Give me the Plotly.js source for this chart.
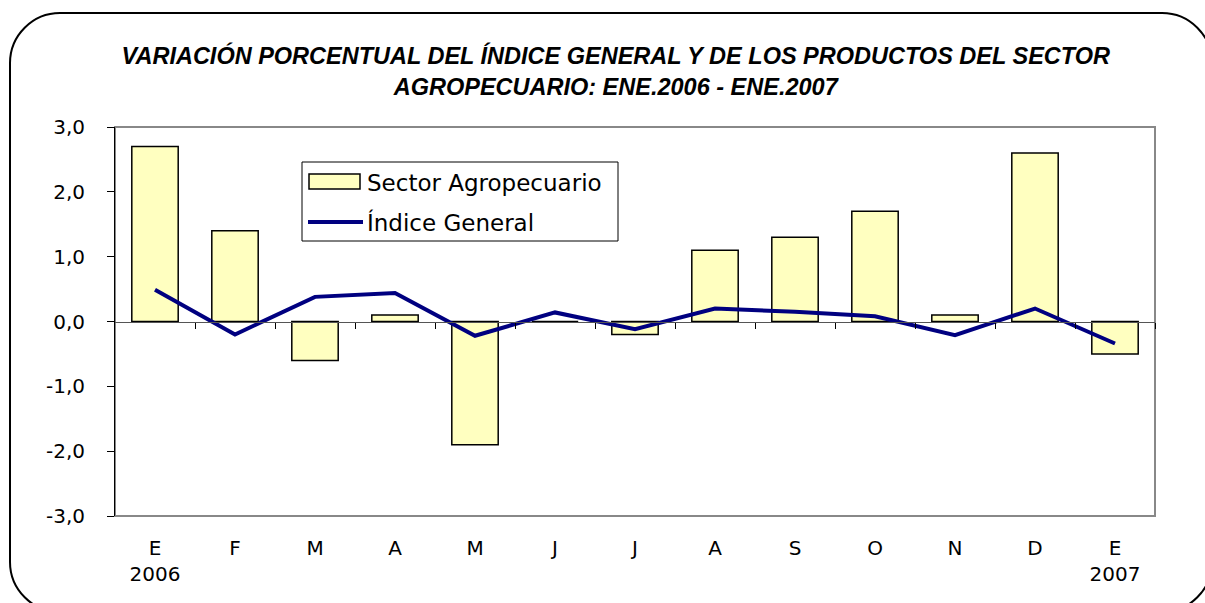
<!DOCTYPE html>
<html>
<head>
<meta charset="utf-8">
<script src="https://cdn.plot.ly/plotly-3.0.1.min.js"></script>
<style>
  body { margin: 0; background: #fff; }
  #chart { width: 1205px; height: 603px; }
</style>
</head>
<body>
<div id="chart"></div>
<script>
// months ene.2006 - ene.2007
var monthLabels = ['E<br>2006', 'F', 'M', 'A', 'M', 'J', 'J', 'A', 'S', 'O', 'N', 'D', 'E<br>2007'];
var monthIndex = [0, 1, 2, 3, 4, 5, 6, 7, 8, 9, 10, 11, 12];
var sectorAgro = [2.7, 1.4, -0.6, 0.1, -1.9, 0.0, -0.2, 1.1, 1.3, 1.7, 0.1, 2.6, -0.5];
var indiceGeneral = [0.49, -0.20, 0.38, 0.44, -0.22, 0.14, -0.12, 0.20, 0.15, 0.08, -0.21, 0.20, -0.34];
var seriesNames = ['Sector Agropecuario', 'Índice General'];
var yTickVals = [-3, -2, -1, 0, 1, 2, 3];
var yTickText = ['-3,0', '-2,0', '-1,0', '0,0', '1,0', '2,0', '3,0'];
var boundaryTicks = [0.5, 1.5, 2.5, 3.5, 4.5, 5.5, 6.5, 7.5, 8.5, 9.5, 10.5, 11.5, 12.5];

var barFill = '#FFFFC0', lineColor = '#000080';

// plot area in pixels, used to place frame and legend in paper units
var L = 115, R = 1155, T = 127, B = 516;
function px(x) { return (x - L) / (R - L); }
function py(y) { return (B - y) / (B - T); }

function roundedFrame(x0, y0, x1, y1, r) {
  var k = 0.55 * r;
  var p = 'M ' + px(x0) + ',' + py(y0 + r) +
    ' C ' + px(x0) + ',' + py(y0 + r - k) + ' ' + px(x0 + r - k) + ',' + py(y0) + ' ' + px(x0 + r) + ',' + py(y0) +
    ' L ' + px(x1 - r) + ',' + py(y0) +
    ' C ' + px(x1 - r + k) + ',' + py(y0) + ' ' + px(x1) + ',' + py(y0 + r - k) + ' ' + px(x1) + ',' + py(y0 + r) +
    ' L ' + px(x1) + ',' + py(y1 - r) +
    ' C ' + px(x1) + ',' + py(y1 - r + k) + ' ' + px(x1 - r + k) + ',' + py(y1) + ' ' + px(x1 - r) + ',' + py(y1) +
    ' L ' + px(x0 + r) + ',' + py(y1) +
    ' C ' + px(x0 + r - k) + ',' + py(y1) + ' ' + px(x0) + ',' + py(y1 - r + k) + ' ' + px(x0) + ',' + py(y1 - r) +
    ' Z';
  return p;
}

var barTrace = {
  x: monthIndex, y: sectorAgro, type: 'bar', name: seriesNames[0],
  marker: { color: barFill, line: { color: '#000', width: 1.5 } },
  hoverinfo: 'skip', showlegend: false
};
var lineTrace = {
  x: monthIndex, y: indiceGeneral, type: 'scatter', mode: 'lines', name: seriesNames[1],
  line: { color: lineColor, width: 4 },
  hoverinfo: 'skip', showlegend: false
};
// invisible trace so the zero-line tick axis is drawn
var tickTrace = {
  x: [0], y: [0], xaxis: 'x2', type: 'scatter', mode: 'markers',
  marker: { opacity: 0 }, showlegend: false, hoverinfo: 'skip'
};

// excel-style legend box
var legendShapes = [
  { type: 'rect', xref: 'paper', yref: 'paper', x0: px(302), x1: px(618), y0: py(241), y1: py(162),
    fillcolor: '#fff', line: { color: '#000', width: 1 } },
  { type: 'rect', xref: 'paper', yref: 'paper', x0: px(309), x1: px(360), y0: py(189), y1: py(174),
    fillcolor: barFill, line: { color: '#000', width: 1.5 } },
  { type: 'line', xref: 'paper', yref: 'paper', x0: px(308), x1: px(363), y0: py(222), y1: py(222),
    line: { color: lineColor, width: 4 } }
];
var legendText = [
  { xref: 'paper', yref: 'paper', x: px(365), y: py(183), text: seriesNames[0], showarrow: false,
    xanchor: 'left', yanchor: 'middle', font: { size: 23 } },
  { xref: 'paper', yref: 'paper', x: px(365), y: py(222), text: seriesNames[1], showarrow: false,
    xanchor: 'left', yanchor: 'middle', font: { size: 23 } }
];

var layout = {
  width: 1205, height: 603,
  margin: { l: L, r: 1205 - R, t: T, b: 603 - B, pad: 0 },
  paper_bgcolor: '#fff', plot_bgcolor: '#fff',
  font: { family: 'DejaVu Sans, Verdana, sans-serif', color: '#000', size: 20 },
  title: {
    text: 'VARIACIÓN PORCENTUAL DEL ÍNDICE GENERAL Y DE LOS PRODUCTOS DEL SECTOR<br>AGROPECUARIO: ENE.2006 - ENE.2007',
    font: { family: 'Liberation Sans, Arial, sans-serif', size: 23.5, style: 'italic', weight: 'bold', color: '#000' },
    xref: 'container', x: 0.511, xanchor: 'center',
    yref: 'container', y: 1 - 64 / 603, yanchor: 'top'
  },
  bargap: 0.42,
  showlegend: false,
  xaxis: {
    range: [-0.5, 12.5], tickmode: 'array', tickvals: monthIndex, ticktext: monthLabels,
    ticks: '', showline: false, showgrid: false, zeroline: false,
    tickfont: { size: 20 }, ticklabelstandoff: 18, fixedrange: true
  },
  xaxis2: {
    overlaying: 'x', anchor: 'free', position: 0.5, side: 'bottom',
    range: [-0.5, 12.5], tickmode: 'array', tickvals: boundaryTicks,
    ticks: 'outside', ticklen: 6, tickcolor: '#000', tickwidth: 1,
    showticklabels: false, showline: true, linecolor: '#555', linewidth: 1,
    showgrid: false, zeroline: false, fixedrange: true
  },
  yaxis: {
    range: [-3, 3], tickmode: 'array', tickvals: yTickVals, ticktext: yTickText,
    ticks: 'outside', ticklen: 7, tickcolor: '#000',
    showline: true, linecolor: '#000', linewidth: 1,
    showgrid: false, zeroline: false, tickfont: { size: 20 }, ticklabelstandoff: 18,
    fixedrange: true
  },
  shapes: [
    { type: 'rect', xref: 'paper', yref: 'paper', x0: 0, x1: 1, y0: 0, y1: 1,
      line: { color: '#888', width: 2 }, layer: 'below' },
    { type: 'path', xref: 'paper', yref: 'paper', path: roundedFrame(10, 13, 1212, 612, 50),
      line: { color: '#000', width: 2 } }
  ].concat(legendShapes),
  annotations: legendText
};

Plotly.newPlot('chart', [barTrace, lineTrace, tickTrace], layout, { displayModeBar: false, staticPlot: true });
</script>
</body>
</html>
